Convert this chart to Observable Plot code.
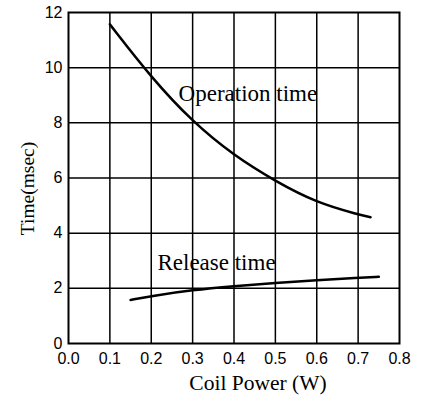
<!DOCTYPE html>
<html>
<head>
<meta charset="utf-8">
<script src="https://cdn.jsdelivr.net/npm/d3@7"></script>
<script src="https://cdn.jsdelivr.net/npm/@observablehq/plot@0.6"></script>
<style>
  html, body { margin: 0; padding: 0; background: #fff; }
  #chart svg { display: block; }
</style>
</head>
<body>
<div id="chart"></div>
<script>
// Data
const opPower   = [0.10, 0.20, 0.30, 0.40, 0.50, 0.60, 0.70, 0.73];
const opTime    = [11.57, 9.64, 8.03, 6.81, 5.88, 5.10, 4.68, 4.58];
const relPower  = [0.15, 0.20, 0.30, 0.40, 0.50, 0.60, 0.70, 0.75];
const relTime   = [1.58, 1.72, 1.94, 2.08, 2.20, 2.30, 2.38, 2.42];
const xTicks    = [0, 0.1, 0.2, 0.3, 0.4, 0.5, 0.6, 0.7, 0.8];
const yTicks    = [0, 2, 4, 6, 8, 10, 12];
const curveLabels = [
  {x: 0.266, y: 9.05, text: "Operation time"},
  {x: 0.215, y: 2.95, text: "Release time"}
];

const opData  = opPower.map((p, i) => ({p, t: opTime[i]}));
const relData = relPower.map((p, i) => ({p, t: relTime[i]}));
const serif = "'Liberation Serif', 'Times New Roman', serif";

const chart = Plot.plot({
  width: 425,
  height: 401,
  marginLeft: 68,
  marginRight: 26,
  marginTop: 12,
  marginBottom: 58,
  style: {fontFamily: "'Liberation Sans', Arial, sans-serif", fontSize: "16px", color: "#000", background: "#fff"},
  x: {domain: [0, 0.8], ticks: xTicks, tickFormat: d3.format(".1f"), label: null},
  y: {domain: [0, 12], ticks: yTicks, label: null},
  marks: [
    Plot.ruleX(xTicks.slice(1, -1), {stroke: "#000", strokeWidth: 1.5}),
    Plot.ruleY(yTicks.slice(1, -1), {stroke: "#000", strokeWidth: 1.5}),
    Plot.frame({stroke: "#000", strokeWidth: 2}),
    Plot.axisX({ticks: xTicks, tickSize: 0, tickPadding: 9, tickFormat: d3.format(".1f"), fontSize: 16, label: null}),
    Plot.axisY({ticks: yTicks, tickSize: 0, tickPadding: 6, fontSize: 16, label: null}),
    Plot.line(opData, {x: "p", y: "t", stroke: "#000", strokeWidth: 2.5, curve: "basis"}),
    Plot.line(relData, {x: "p", y: "t", stroke: "#000", strokeWidth: 2.5, curve: "basis"}),
    Plot.text(curveLabels, {x: "x", y: "y", text: "text", textAnchor: "start", lineAnchor: "middle",
      fontFamily: serif, fontSize: 23, fill: "#000"}),
    Plot.text(["Coil Power (W)"], {frameAnchor: "bottom", dx: 24, dy: 40, textAnchor: "middle", lineAnchor: "middle",
      fontFamily: serif, fontSize: 21.5, fill: "#000"}),
    Plot.text(["Time(msec)"], {frameAnchor: "left", dx: -41, dy: 10.5, rotate: -90, textAnchor: "middle", lineAnchor: "middle",
      fontFamily: serif, fontSize: 19.5, fill: "#000"})
  ]
});
document.getElementById("chart").appendChild(chart);
</script>
</body>
</html>
